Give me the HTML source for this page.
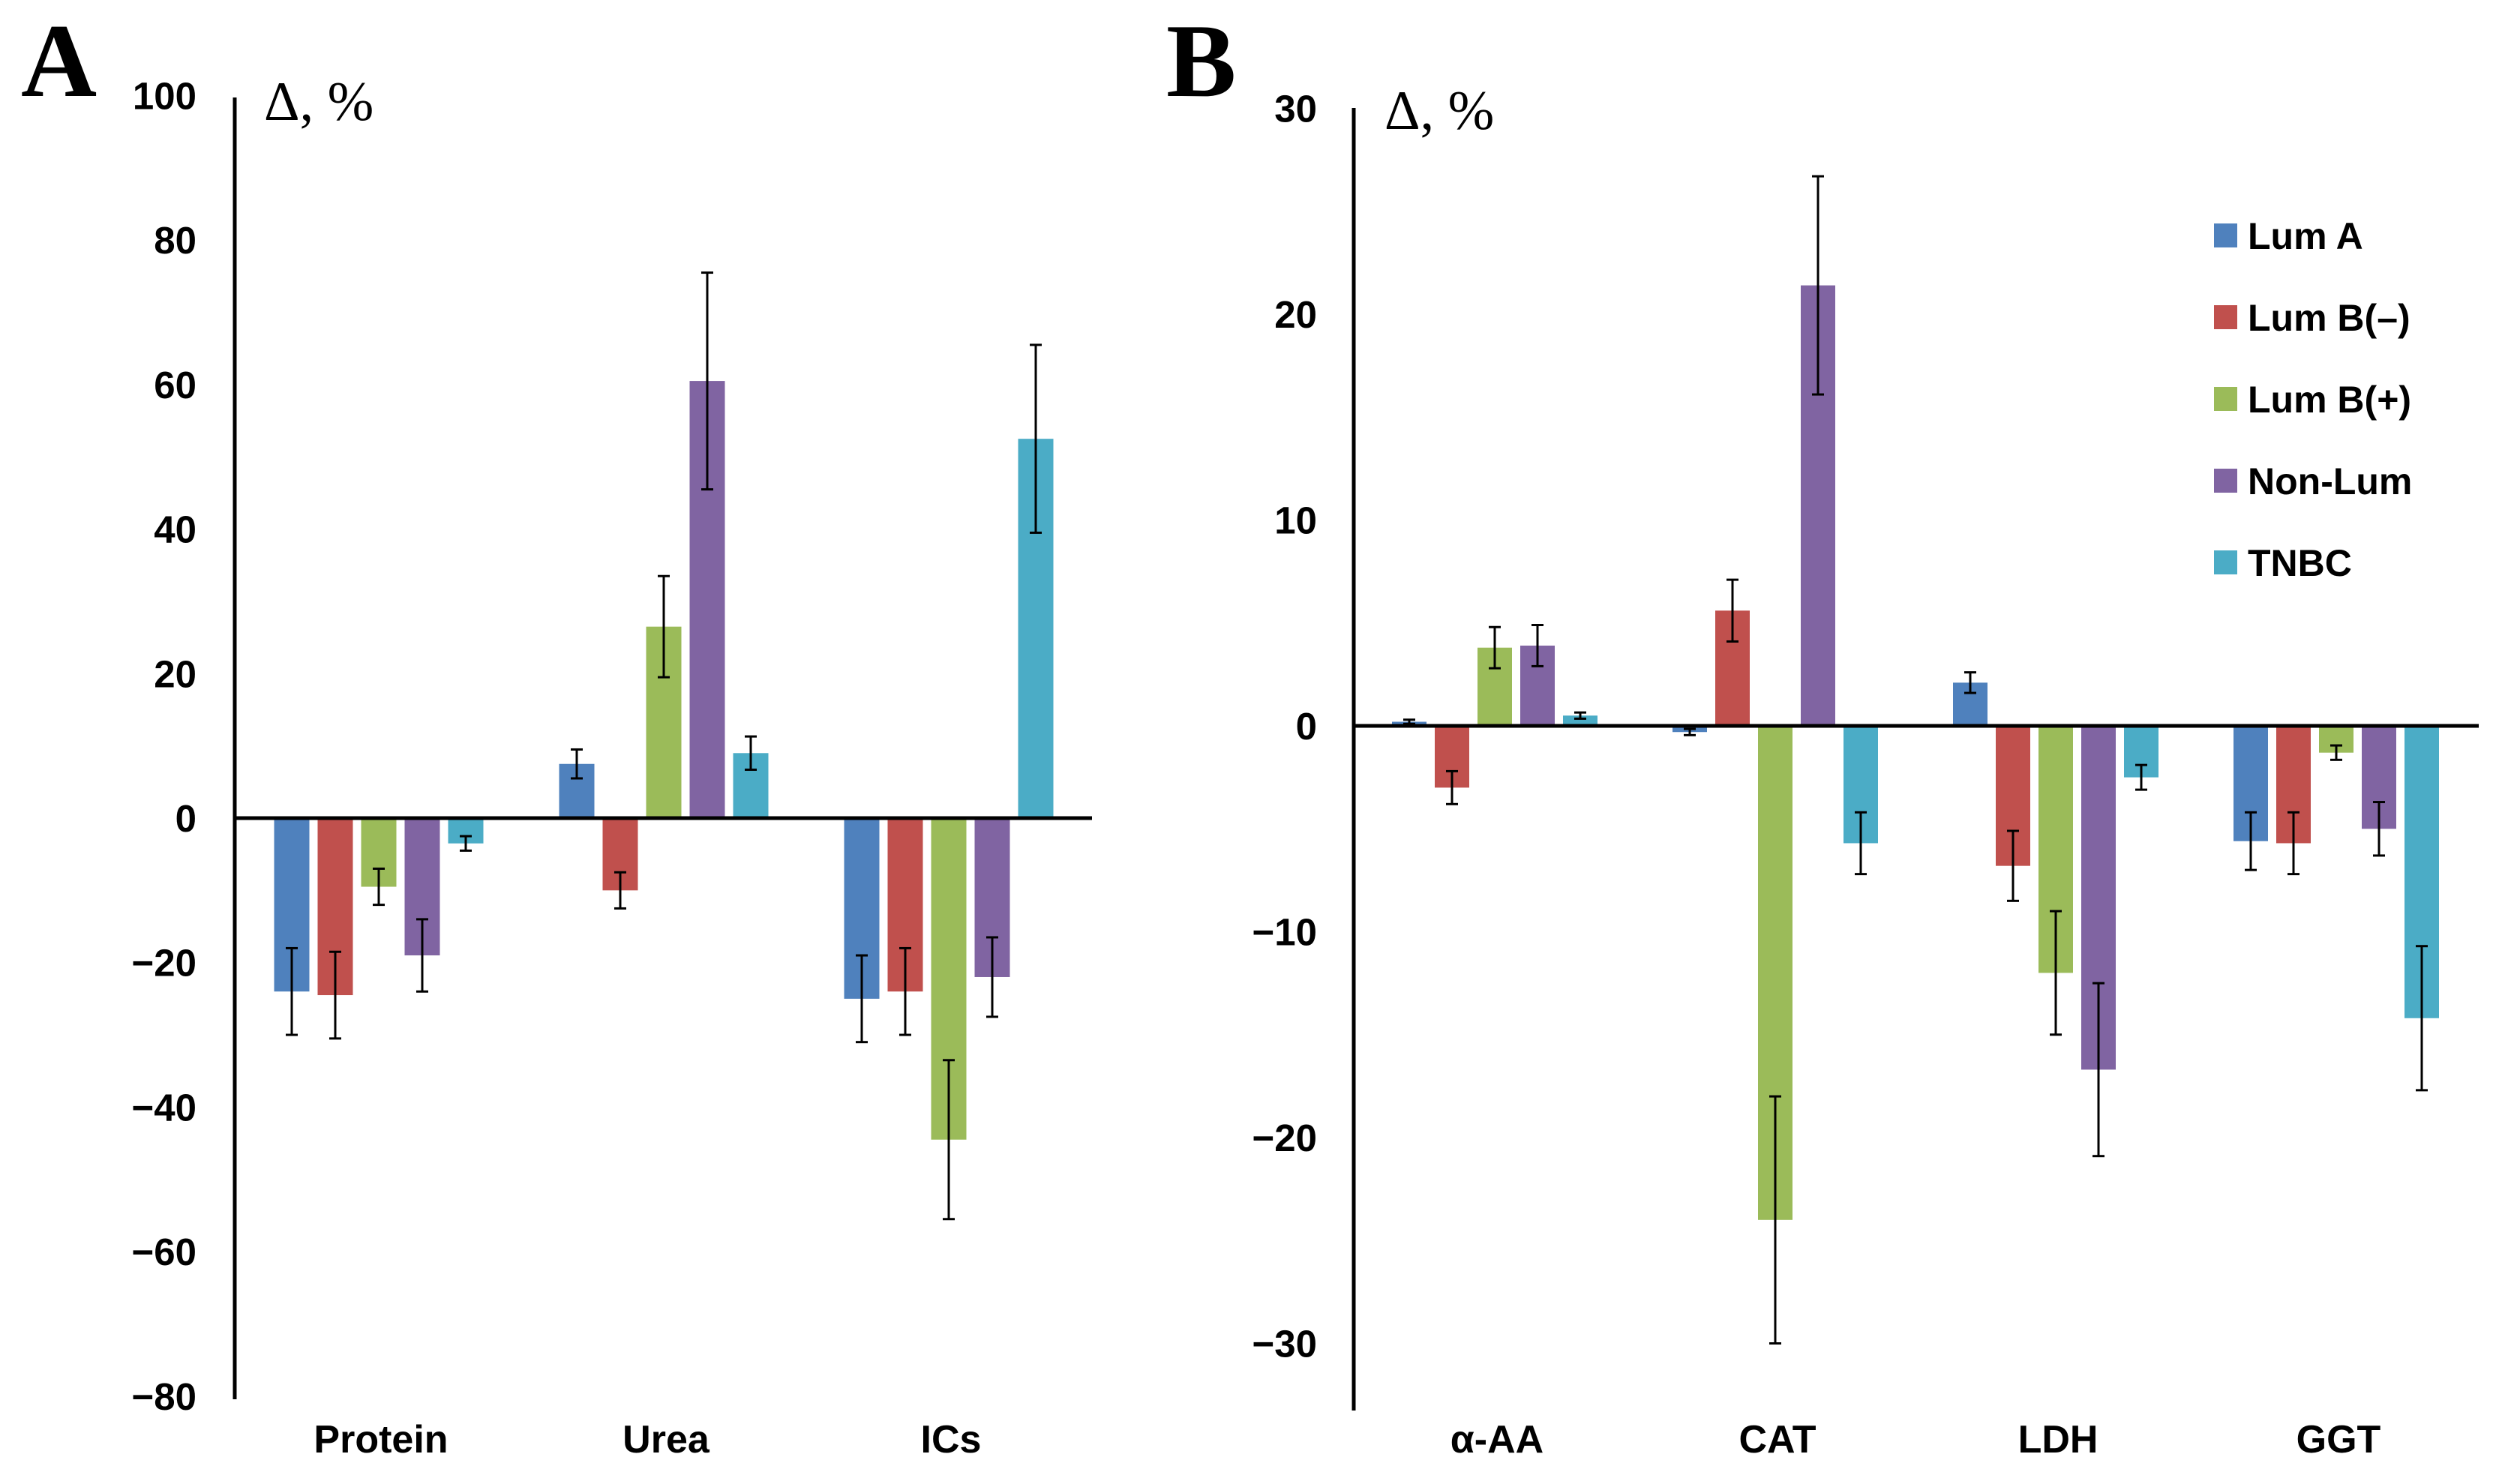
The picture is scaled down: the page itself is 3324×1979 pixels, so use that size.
<!DOCTYPE html>
<html><head><meta charset="utf-8"><style>
html,body{margin:0;padding:0;background:#fff;}
svg{display:block;}
.tick{font-family:"Liberation Sans",sans-serif;font-weight:bold;font-size:51px;fill:#000;}
.cat{font-family:"Liberation Sans",sans-serif;font-weight:bold;font-size:52px;fill:#000;}
.leg{font-family:"Liberation Sans",sans-serif;font-weight:bold;font-size:50px;fill:#000;}
.ser{font-family:"Liberation Serif",serif;}
</style></head><body>
<svg id="chart" width="3324" height="1979" viewBox="0 0 3324 1979" xmlns="http://www.w3.org/2000/svg">
<text x="28" y="128" class="ser" font-size="140" font-weight="bold">A</text>
<text x="1555" y="128" class="ser" font-size="140" font-weight="bold">B</text>
<text x="352" y="160" class="ser" font-size="74">Δ, %</text>
<text x="1846" y="172" class="ser" font-size="74">Δ, %</text>
<g id="gA"></g>
<g id="gB"></g>
<g id="legend"></g>
</svg>
<script>
const seriesNames = ["Lum A","Lum B(\u2013)","Lum B(+)","Non-Lum","TNBC"];
const colors = ["#4F81BD","#C0504D","#9BBB59","#8064A2","#4BACC6"];

const catsA = ["Protein","Urea","ICs"];
const valsA_LumA = [-24, 7.5, -25];
const valsA_LumBm = [-24.5, -10, -24];
const valsA_LumBp = [-9.5, 26.5, -44.5];
const valsA_NonLum = [-19, 60.5, -22];
const valsA_TNBC = [-3.5, 9, 52.5];
const errA_LumA = [6, 2, 6];
const errA_LumBm = [6, 2.5, 6];
const errA_LumBp = [2.5, 7, 11];
const errA_NonLum = [5, 15, 5.5];
const errA_TNBC = [1, 2.3, 13];
const ticksA = [100,80,60,40,20,0,-20,-40,-60,-80];

const catsB = ["\u03b1-AA","CAT","LDH","GGT"];
const valsB_LumA = [0.2, -0.3, 2.1, -5.6];
const valsB_LumBm = [-3, 5.6, -6.8, -5.7];
const valsB_LumBp = [3.8, -24, -12, -1.3];
const valsB_NonLum = [3.9, 21.4, -16.7, -5];
const valsB_TNBC = [0.5, -5.7, -2.5, -14.2];
const errB_LumA = [0.1, 0.15, 0.5, 1.4];
const errB_LumBm = [0.8, 1.5, 1.7, 1.5];
const errB_LumBp = [1, 6, 3, 0.35];
const errB_NonLum = [1, 5.3, 4.2, 1.3];
const errB_TNBC = [0.15, 1.5, 0.6, 3.5];
const ticksB = [30,20,10,0,-10,-20,-30];

const NS="http://www.w3.org/2000/svg";
function mk(tag, attrs, parent){const e=document.createElementNS(NS,tag);for(const k in attrs)e.setAttribute(k,attrs[k]);parent.appendChild(e);return e;}

function drawPanel(g, cfg){
  const y = v => cfg.zeroY - v*cfg.pxPerUnit;
  const x = (ci, si) => cfg.firstCenter + ci*cfg.groupStep + (si-2)*cfg.barStep;
  cfg.ticks.forEach(t=>{
    const tx = mk('text',{x:cfg.tickRight,y:y(t)+18,'text-anchor':'end',class:'tick'},g);
    
    
    tx.textContent = t<0 ? '\u2212'+Math.abs(t) : String(t);
  });
  cfg.series.forEach((vals,si)=>{
    vals.forEach((v,ci)=>{
      const cx = x(ci,si);
      const top = Math.min(y(v),cfg.zeroY), h=Math.abs(y(v)-cfg.zeroY);
      const r = mk('rect',{x:cx-cfg.barW/2,y:top,width:cfg.barW,height:h,fill:colors[si]},g);
      
      
      const e = cfg.errs[si][ci];
      const y1 = y(v-e), y2 = y(v+e);
      const eg = mk('g',{stroke:'#000','stroke-width':3},g);
      
      
      mk('line',{x1:cx,x2:cx,y1:y1,y2:y2},eg);
      mk('line',{x1:cx-8,x2:cx+8,y1:y1,y2:y1},eg);
      mk('line',{x1:cx-8,x2:cx+8,y1:y2,y2:y2},eg);
    });
  });
  const ax = mk('line',{x1:cfg.axisX,x2:cfg.axisX,y1:cfg.axisTop,y2:cfg.axisBottom,stroke:'#000','stroke-width':5},g);
  
  
  const zl = mk('line',{x1:cfg.axisX,x2:cfg.zeroRight,y1:cfg.zeroY,y2:cfg.zeroY,stroke:'#000','stroke-width':5},g);
  
  
  cfg.cats.forEach((c,ci)=>{
    const t = mk('text',{x:x(ci,2)+3,y:cfg.catY,'text-anchor':'middle',class:'cat'},g);
    
    
    t.textContent=c;
  });
}

drawPanel(document.getElementById('gA'),{
  zeroY:1091, pxPerUnit:192.7/20, firstCenter:505, groupStep:380, barStep:58, barW:47,
  axisX:313, axisTop:130, axisBottom:1866, zeroRight:1456, tickRight:262, catY:1937,
  ticks:ticksA, cats:catsA,
  series:[valsA_LumA,valsA_LumBm,valsA_LumBp,valsA_NonLum,valsA_TNBC],
  errs:[errA_LumA,errA_LumBm,errA_LumBp,errA_NonLum,errA_TNBC]
});
drawPanel(document.getElementById('gB'),{
  zeroY:968, pxPerUnit:274.5/10, firstCenter:1993, groupStep:374, barStep:57, barW:46,
  axisX:1805, axisTop:144, axisBottom:1881, zeroRight:3305, tickRight:1756, catY:1937,
  ticks:ticksB, cats:catsB,
  series:[valsB_LumA,valsB_LumBm,valsB_LumBp,valsB_NonLum,valsB_TNBC],
  errs:[errB_LumA,errB_LumBm,errB_LumBp,errB_NonLum,errB_TNBC]
});

const lg = document.getElementById('legend');
seriesNames.forEach((n,i)=>{
  const cy = 314 + i*109;
  const it = mk('g',{},lg);
  
  
  mk('rect',{x:2952,y:cy-16,width:31,height:32,fill:colors[i]},it);
  const t = mk('text',{x:2997,y:cy+18,class:'leg'},it);
  t.textContent=n;
});
</script>
</body></html>
